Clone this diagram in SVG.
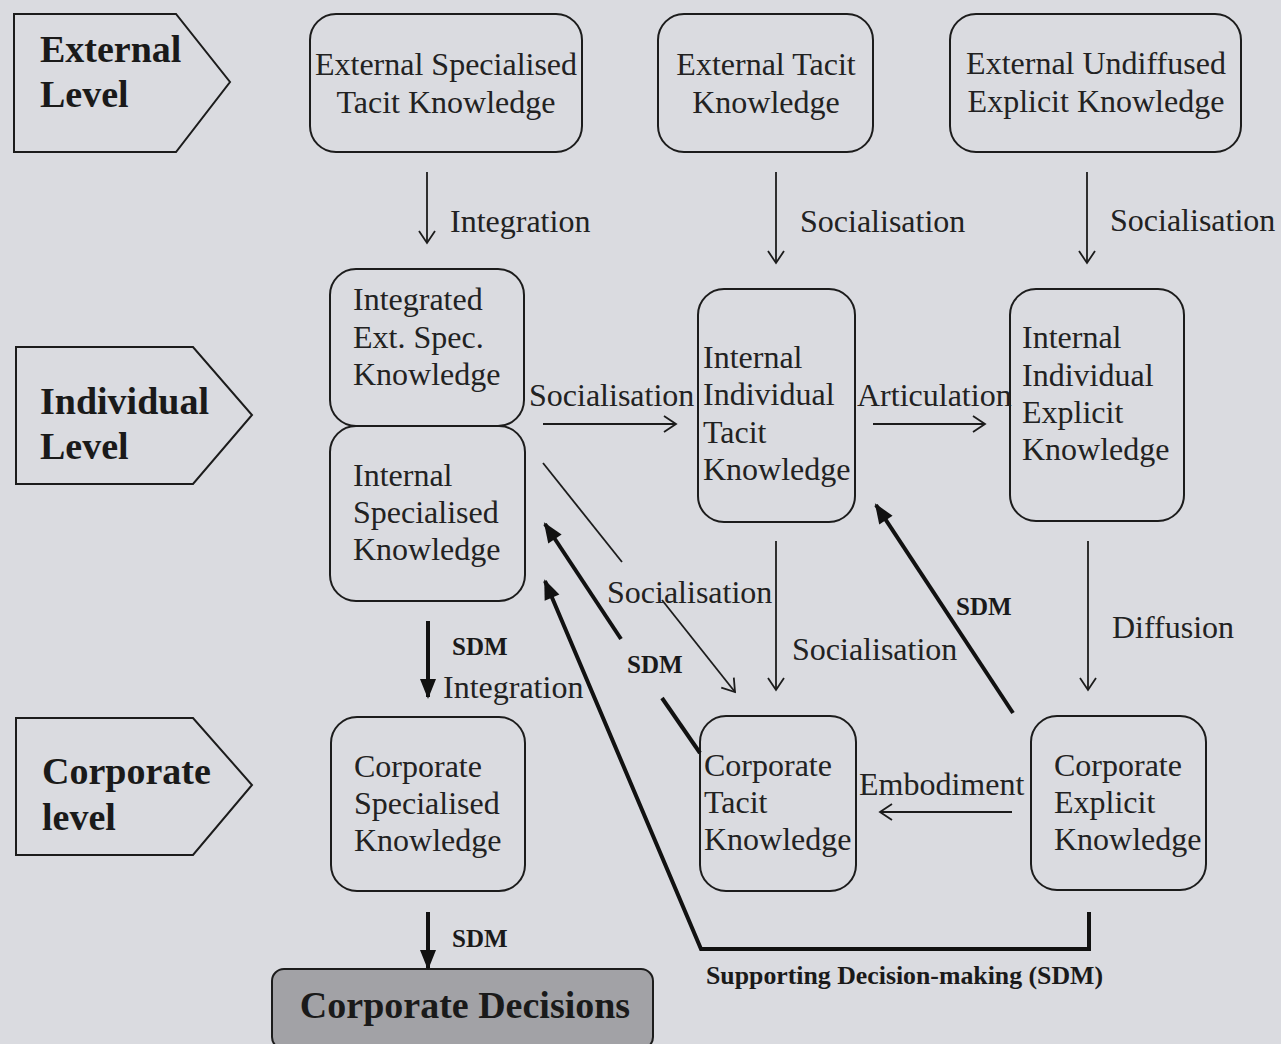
<svg xmlns="http://www.w3.org/2000/svg" width="1281" height="1044" viewBox="0 0 1281 1044">
<style>
.bg{fill:#dadbe0}
.box{fill:none;stroke:#1c1c1c;stroke-width:2}
.pent{fill:none;stroke:#1c1c1c;stroke-width:2}
.t{font-family:"Liberation Serif","Times New Roman",serif;font-size:32px;fill:#222}
.tc{text-anchor:middle}
.lvl{font-family:"Liberation Serif","Times New Roman",serif;font-size:38px;font-weight:bold;fill:#1a1a1a}
.b{font-family:"Liberation Serif","Times New Roman",serif;font-size:25px;font-weight:bold;fill:#1a1a1a}
.thin{fill:none;stroke:#1c1c1c;stroke-width:1.8}
.thick{fill:none;stroke:#111;stroke-width:4}
</style>
<defs>
<marker id="open" viewBox="0 0 14 18" refX="12" refY="8" markerWidth="14" markerHeight="18" markerUnits="userSpaceOnUse" orient="auto" overflow="visible">
<path d="M0,0 L12,8 L0,16" fill="none" stroke="#1c1c1c" stroke-width="1.8"/>
</marker>
<marker id="solid" viewBox="0 0 20 16" refX="18" refY="8" markerWidth="20" markerHeight="16" markerUnits="userSpaceOnUse" orient="auto" overflow="visible">
<path d="M0,0 L20,8 L0,16 Z" fill="#111"/>
</marker>
</defs>
<rect class="bg" x="0" y="0" width="1281" height="1044"/>

<g id="level-external">
<polygon class="pent" points="14,14 176,14 230,82 176,152 14,152"/>
<text class="lvl" x="40" y="62">External</text>
<text class="lvl" x="40" y="107">Level</text>
</g>
<g id="level-individual">
<polygon class="pent" points="16,347 193,347 252,415 193,484 16,484"/>
<text class="lvl" x="40" y="414">Individual</text>
<text class="lvl" x="40" y="459">Level</text>
</g>
<g id="level-corporate">
<polygon class="pent" points="16,718 193,718 252,785 193,855 16,855"/>
<text class="lvl" x="42" y="784">Corporate</text>
<text class="lvl" x="42" y="830">level</text>
</g>

<g id="ext-spec-tacit">
<rect class="box" x="310" y="14" width="272" height="138" rx="26"/>
<text class="t tc" x="446" y="75">External Specialised</text>
<text class="t tc" x="446" y="113">Tacit Knowledge</text>
</g>
<g id="ext-tacit">
<rect class="box" x="658" y="14" width="215" height="138" rx="26"/>
<text class="t tc" x="766" y="75">External Tacit</text>
<text class="t tc" x="766" y="113">Knowledge</text>
</g>
<g id="ext-undiffused">
<rect class="box" x="950" y="14" width="291" height="138" rx="26"/>
<text class="t tc" x="1096" y="74">External Undiffused</text>
<text class="t tc" x="1096" y="112">Explicit Knowledge</text>
</g>

<g id="integrated-ext-spec">
<rect class="box" x="330" y="269" width="194" height="157" rx="26"/>
<text class="t" x="353" y="310">Integrated</text>
<text class="t" x="353" y="348">Ext. Spec.</text>
<text class="t" x="353" y="385">Knowledge</text>
</g>
<g id="internal-specialised">
<rect class="box" x="330" y="426" width="195" height="175" rx="26"/>
<text class="t" x="353" y="486">Internal</text>
<text class="t" x="353" y="523">Specialised</text>
<text class="t" x="353" y="560">Knowledge</text>
</g>
<g id="internal-individual-tacit">
<rect class="box" x="698" y="289" width="157" height="233" rx="26"/>
<text class="t" x="703" y="368">Internal</text>
<text class="t" x="703" y="405">Individual</text>
<text class="t" x="703" y="443">Tacit</text>
<text class="t" x="703" y="480">Knowledge</text>
</g>
<g id="internal-individual-explicit">
<rect class="box" x="1010" y="289" width="174" height="232" rx="26"/>
<text class="t" x="1022" y="348">Internal</text>
<text class="t" x="1022" y="386">Individual</text>
<text class="t" x="1022" y="423">Explicit</text>
<text class="t" x="1022" y="460">Knowledge</text>
</g>
<g id="corporate-specialised">
<rect class="box" x="331" y="717" width="194" height="174" rx="26"/>
<text class="t" x="354" y="777">Corporate</text>
<text class="t" x="354" y="814">Specialised</text>
<text class="t" x="354" y="851">Knowledge</text>
</g>
<g id="corporate-tacit">
<rect class="box" x="700" y="716" width="156" height="175" rx="26"/>
<text class="t" x="704" y="776">Corporate</text>
<text class="t" x="704" y="813">Tacit</text>
<text class="t" x="704" y="850">Knowledge</text>
</g>
<g id="corporate-explicit">
<rect class="box" x="1031" y="716" width="175" height="174" rx="26"/>
<text class="t" x="1054" y="776">Corporate</text>
<text class="t" x="1054" y="813">Explicit</text>
<text class="t" x="1054" y="850">Knowledge</text>
</g>
<g id="corporate-decisions">
<rect x="272" y="969" width="381" height="80" rx="12" fill="#a2a2a6" stroke="#1c1c1c" stroke-width="2"/>
<text class="lvl tc" x="465" y="1018">Corporate Decisions</text>
</g>

<g id="connectors">
<line class="thin" x1="427" y1="172" x2="427" y2="243" marker-end="url(#open)"/>
<line class="thin" x1="776" y1="172" x2="776" y2="263" marker-end="url(#open)"/>
<line class="thin" x1="1087" y1="172" x2="1087" y2="263" marker-end="url(#open)"/>
<line class="thin" x1="543" y1="424" x2="676" y2="424" marker-end="url(#open)"/>
<line class="thin" x1="873" y1="424" x2="985" y2="424" marker-end="url(#open)"/>
<line class="thin" x1="543" y1="463" x2="622" y2="562"/>
<line class="thin" x1="662" y1="600" x2="735" y2="692" marker-end="url(#open)"/>
<line class="thin" x1="776" y1="541" x2="776" y2="690" marker-end="url(#open)"/>
<line class="thin" x1="1088" y1="541" x2="1088" y2="690" marker-end="url(#open)"/>
<line class="thin" x1="1012" y1="812" x2="880" y2="812" marker-end="url(#open)"/>
<line class="thick" x1="428" y1="621" x2="428" y2="697" marker-end="url(#solid)"/>
<line class="thick" x1="428" y1="912" x2="428" y2="968" marker-end="url(#solid)"/>
<line class="thick" x1="700" y1="753" x2="662" y2="698"/>
<line class="thick" x1="621" y1="639" x2="545" y2="524" marker-end="url(#solid)"/>
<polyline class="thick" points="1089,912 1089,949 701,949 545,581" marker-end="url(#solid)"/>
<line class="thick" x1="1013" y1="713" x2="876" y2="505" marker-end="url(#solid)"/>

<text class="t" x="450" y="232">Integration</text>
<text class="t" x="800" y="232">Socialisation</text>
<text class="t" x="1110" y="231">Socialisation</text>
<text class="t" x="529" y="406">Socialisation</text>
<text class="t" x="857" y="406">Articulation</text>
<text class="t" x="607" y="603">Socialisation</text>
<text class="t" x="792" y="660">Socialisation</text>
<text class="t" x="1112" y="638">Diffusion</text>
<text class="t" x="859" y="795">Embodiment</text>
<text class="t" x="443" y="698">Integration</text>
<text class="b" x="452" y="655">SDM</text>
<text class="b" x="452" y="947">SDM</text>
<text class="b" x="627" y="673">SDM</text>
<text class="b" x="956" y="615">SDM</text>
<text class="b" x="706" y="984" style="font-size:25.8px">Supporting Decision-making (SDM)</text>
</g>
</svg>
